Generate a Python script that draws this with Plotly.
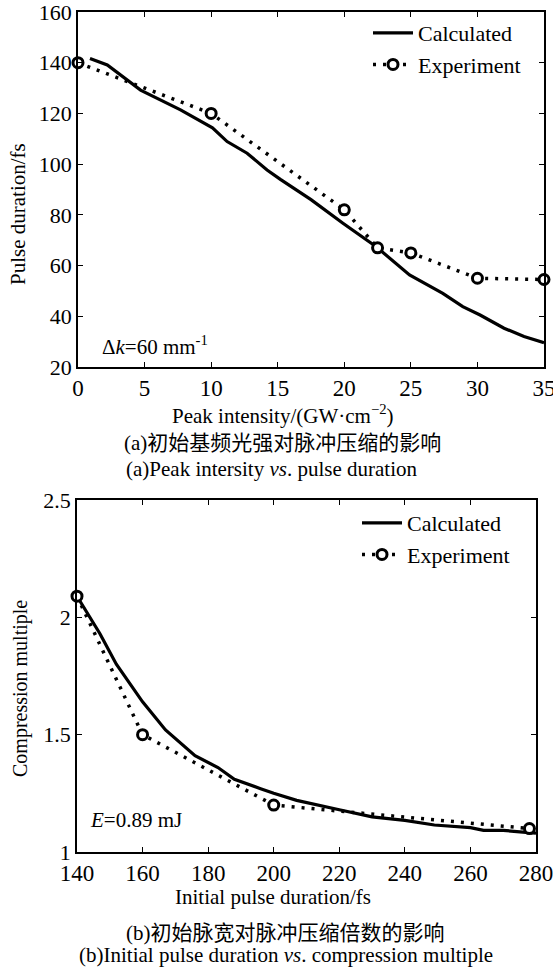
import plotly.graph_objects as go

# ---- Data (a): peak intensity vs pulse duration ----
calc_a_x = [0.9, 2.2, 4.7, 7.7, 10.1, 11.2, 12.7, 14.2, 15.2, 17.5, 19.9, 22.4, 24.9, 27.4, 28.9, 30.2, 32.0, 33.5, 35.0]
calc_a_y = [141.7, 139.1, 129.2, 121.4, 114.3, 108.9, 104.3, 97.7, 94.0, 86.0, 76.7, 67.4, 56.3, 49.0, 43.8, 40.5, 35.3, 32.0, 29.6]
exp_a_x = [0, 10, 20, 22.5, 25, 30, 35]
exp_a_y = [140, 120, 82, 67, 65, 55, 54.5]

# ---- Data (b): initial pulse duration vs compression multiple ----
calc_b_x = [140, 147, 152, 157, 160, 167, 176, 183, 188, 196, 200, 207, 214, 220, 230, 240, 249, 260, 264, 270, 276, 280]
calc_b_y = [2.09, 1.93, 1.80, 1.70, 1.64, 1.52, 1.41, 1.36, 1.31, 1.27, 1.25, 1.22, 1.20, 1.18, 1.15, 1.135, 1.115, 1.104, 1.092, 1.092, 1.085, 1.08]
exp_b_x = [140, 160, 200, 278]
exp_b_y = [2.09, 1.50, 1.20, 1.10]

a_xticks = [0, 5, 10, 15, 20, 25, 30, 35]
a_yticks = [20, 40, 60, 80, 100, 120, 140, 160]
b_xticks = [140, 160, 180, 200, 220, 240, 260, 280]
b_yticks = [1, 1.5, 2, 2.5]
b_yticklabels = ["1", "1.5", "2", "2.5"]

SERIF = "Liberation Serif"
MIX = "Liberation Serif, Noto Sans CJK SC"
W, H = 553, 968

fig = go.Figure()

line_solid = dict(color="black", width=3.2)
line_dot = dict(color="black", width=3.5, dash="3px,7px")
mk = dict(symbol="circle", size=10, color="white", line=dict(color="black", width=3))

fig.add_trace(go.Scatter(x=calc_a_x, y=calc_a_y, mode="lines", line=line_solid,
                         name="Calculated", xaxis="x", yaxis="y", legend="legend"))
fig.add_trace(go.Scatter(x=exp_a_x, y=exp_a_y, mode="lines+markers", line=line_dot, marker=mk,
                         name="Experiment", xaxis="x", yaxis="y", legend="legend", cliponaxis=False))
fig.add_trace(go.Scatter(x=calc_b_x, y=calc_b_y, mode="lines", line=line_solid,
                         name="Calculated", xaxis="x2", yaxis="y2", legend="legend2"))
fig.add_trace(go.Scatter(x=exp_b_x, y=exp_b_y, mode="lines+markers", line=line_dot, marker=mk,
                         name="Experiment", xaxis="x2", yaxis="y2", legend="legend2", cliponaxis=False))

def ax(**kw):
    d = dict(showgrid=False, zeroline=False, showline=True, linecolor="black", linewidth=1.5,
             mirror="ticks", ticks="inside", ticklen=5, tickwidth=1.2, tickcolor="black",
             automargin=False, ticklabeloverflow="allow",
             tickfont=dict(family=SERIF, size=22, color="black"))
    d.update(kw)
    return d

fig.update_layout(
    width=W, height=H,
    margin=dict(l=0, r=0, t=0, b=0, autoexpand=False),
    paper_bgcolor="white", plot_bgcolor="white",
    showlegend=True,
    font=dict(family=SERIF, size=20, color="black"),
    xaxis=ax(domain=[78 / W, 544 / W], range=[0, 35], tickvals=a_xticks, anchor="y",
             tickfont=dict(family=SERIF, size=23, color="black")),
    yaxis=ax(domain=[1 - 367 / H, 1 - 12 / H], range=[20, 160], tickvals=a_yticks, anchor="x"),
    xaxis2=ax(domain=[77 / W, 536 / W], range=[140, 280], tickvals=b_xticks, anchor="y2",
              tickfont=dict(family=SERIF, size=23, color="black")),
    yaxis2=ax(domain=[1 - 852 / H, 1 - 500 / H], range=[1, 2.5], tickvals=b_yticks,
              ticktext=b_yticklabels, anchor="x2"),
    legend=dict(x=368 / W, y=1 - 12 / H, xanchor="left", yanchor="top",
                bgcolor="rgba(0,0,0,0)", font=dict(family=SERIF, size=22, color="black"),
                tracegroupgap=0, itemwidth=40),
    legend2=dict(x=357 / W, y=1 - 502 / H, xanchor="left", yanchor="top",
                 bgcolor="rgba(0,0,0,0)", font=dict(family=SERIF, size=22, color="black"),
                 tracegroupgap=0, itemwidth=40),
)

def txt(x, y, s, size=21, family=SERIF, angle=0, xanchor="center"):
    fig.add_annotation(x=x / W, y=1 - y / H, xref="paper", yref="paper", text=s, showarrow=False,
                       font=dict(family=family, size=size, color="black"), textangle=angle,
                       xanchor=xanchor, yanchor="middle")

txt(18, 214, "Pulse duration/fs", size=21, angle=-90)
txt(283, 415, "Peak intensity/(GW·cm<sup>−2</sup>)")
txt(282, 443, "(a)初始基频光强对脉冲压缩的影响", family=MIX)
txt(272, 469, "(a)Peak intersity <i>vs</i>. pulse duration")
txt(100, 345, "Δ<i>k</i>=60 mm<sup>-1</sup>", xanchor="left")

txt(20, 689, "Compression multiple", size=20, angle=-90)
txt(273, 897, "Initial pulse duration/fs")
txt(285, 933, "(b)初始脉宽对脉冲压缩倍数的影响", family=MIX)
txt(286, 955, "(b)Initial pulse duration <i>vs</i>. compression multiple")
txt(88, 820, "<i>E</i>=0.89 mJ", xanchor="left")

fig.write_html("out.html")
